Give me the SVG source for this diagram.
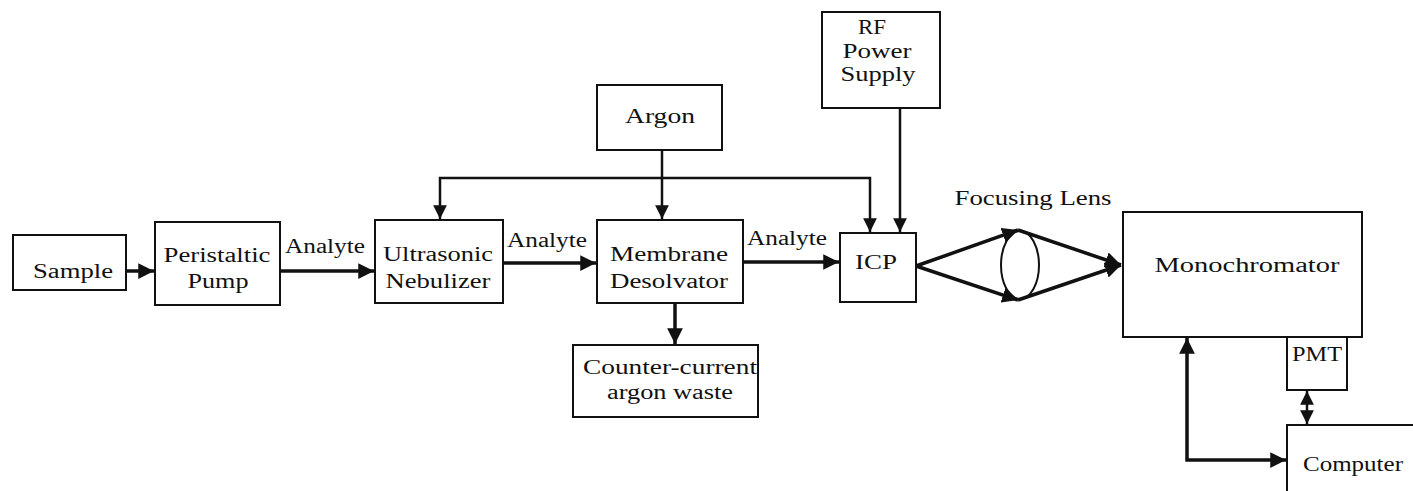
<svg xmlns="http://www.w3.org/2000/svg" width="1413" height="491" viewBox="0 0 1413 491">
<defs>
<style>
.box{fill:#fff;stroke:#111;stroke-width:2}
.t{font-family:"Liberation Serif","Times New Roman",serif;font-size:20px;fill:#111;text-anchor:middle}
.c{fill:none;stroke:#111;stroke-width:3.5}
.thin{fill:none;stroke:#111;stroke-width:2.5}
</style>
<marker id="ah" viewBox="0 0 10 10" refX="10" refY="5" markerWidth="4.5" markerHeight="4.5" orient="auto" markerUnits="strokeWidth">
<path d="M0,0 L10,5 L0,10 z" fill="#111"/>
</marker>
<marker id="ahs" viewBox="0 0 10 10" refX="10" refY="5" markerWidth="5.5" markerHeight="5.5" orient="auto" markerUnits="strokeWidth">
<path d="M0,0 L10,5 L0,10 z" fill="#111"/>
</marker>
<marker id="ahr" viewBox="0 0 10 10" refX="0" refY="5" markerWidth="4.5" markerHeight="4.5" orient="auto" markerUnits="strokeWidth">
<path d="M10,0 L0,5 L10,10 z" fill="#111"/>
</marker>
<marker id="ahrs" viewBox="0 0 10 10" refX="0" refY="5" markerWidth="5.5" markerHeight="5.5" orient="auto" markerUnits="strokeWidth">
<path d="M10,0 L0,5 L10,10 z" fill="#111"/>
</marker>
</defs>
<rect width="1413" height="491" fill="#fff"/>

<g id="connectors">
<path class="c" d="M126,271 H154" marker-end="url(#ah)"/>
<path class="c" d="M280,271 H374" marker-end="url(#ah)"/>
<path class="c" d="M503,263 H596" marker-end="url(#ah)"/>
<path class="c" d="M743,262 H839" marker-end="url(#ah)"/>
<path class="thin" d="M662,150 V219" marker-end="url(#ahs)"/>
<path class="thin" d="M440,219 V178 H870 V232" marker-start="url(#ahrs)" marker-end="url(#ahs)"/>
<path class="thin" d="M900,108 V232" marker-end="url(#ahs)"/>
<path class="c" d="M675,303 V344" marker-end="url(#ah)"/>
<path class="c" d="M916,266 L1018,230" marker-end="url(#ah)"/>
<path class="c" d="M916,266 L1018,300" marker-end="url(#ah)"/>
<path class="c" d="M1018,230 L1121,265" marker-end="url(#ah)"/>
<path class="c" d="M1018,300 L1121,265" marker-end="url(#ah)"/>
<path class="thin" d="M1307,391 V424" marker-start="url(#ahrs)" marker-end="url(#ahs)"/>
<path class="c" d="M1187,338 V460 H1286" marker-start="url(#ahr)" marker-end="url(#ah)"/>
</g>

<g id="lens">
<ellipse cx="1020" cy="265" rx="19" ry="34" fill="none" stroke="#111" stroke-width="2"/>
</g>

<g id="sample"><rect class="box" x="13" y="235" width="113" height="55"/>
<text class="t" x="73" y="278" textLength="80" lengthAdjust="spacingAndGlyphs">Sample</text></g>

<g id="pump"><rect class="box" x="155" y="222" width="125" height="83"/>
<text class="t" x="217" y="262" textLength="107" lengthAdjust="spacingAndGlyphs">Peristaltic</text>
<text class="t" x="218" y="288" textLength="61" lengthAdjust="spacingAndGlyphs">Pump</text></g>

<text class="t" x="325" y="253" textLength="80" lengthAdjust="spacingAndGlyphs">Analyte</text>

<g id="nebulizer"><rect class="box" x="375" y="220" width="128" height="83"/>
<text class="t" x="438" y="261" textLength="110" lengthAdjust="spacingAndGlyphs">Ultrasonic</text>
<text class="t" x="438" y="288" textLength="105" lengthAdjust="spacingAndGlyphs">Nebulizer</text></g>

<text class="t" x="547" y="247" textLength="80" lengthAdjust="spacingAndGlyphs">Analyte</text>

<g id="argon"><rect class="box" x="597" y="85" width="125" height="65"/>
<text class="t" x="660" y="123" textLength="70" lengthAdjust="spacingAndGlyphs">Argon</text></g>

<g id="desolvator"><rect class="box" x="597" y="220" width="146" height="83"/>
<text class="t" x="669" y="261" textLength="118" lengthAdjust="spacingAndGlyphs">Membrane</text>
<text class="t" x="669" y="288" textLength="118" lengthAdjust="spacingAndGlyphs">Desolvator</text></g>

<text class="t" x="787" y="245" textLength="80" lengthAdjust="spacingAndGlyphs">Analyte</text>

<g id="waste"><rect class="box" x="573" y="345" width="185" height="72"/>
<text class="t" x="670" y="374" textLength="174" lengthAdjust="spacingAndGlyphs">Counter-current</text>
<text class="t" x="670" y="399" textLength="126" lengthAdjust="spacingAndGlyphs">argon waste</text></g>

<g id="rf"><rect class="box" x="822" y="12" width="118" height="96"/>
<text class="t" x="872" y="34" textLength="28" lengthAdjust="spacingAndGlyphs">RF</text>
<text class="t" x="877" y="58" textLength="69" lengthAdjust="spacingAndGlyphs">Power</text>
<text class="t" x="878" y="81" textLength="75" lengthAdjust="spacingAndGlyphs">Supply</text></g>

<g id="icp"><rect class="box" x="840" y="233" width="76" height="69"/>
<text class="t" x="876" y="269" textLength="42" lengthAdjust="spacingAndGlyphs">ICP</text></g>

<text class="t" x="1033" y="205" textLength="157" lengthAdjust="spacingAndGlyphs">Focusing Lens</text>

<g id="monochromator"><rect class="box" x="1123" y="212" width="239" height="125"/>
<text class="t" x="1247" y="272" textLength="185" lengthAdjust="spacingAndGlyphs">Monochromator</text></g>

<g id="pmt"><rect class="box" x="1287" y="337" width="60" height="53"/>
<text class="t" x="1317" y="361" textLength="50" lengthAdjust="spacingAndGlyphs">PMT</text></g>

<g id="computer"><rect class="box" x="1287" y="425" width="140" height="80"/>
<text class="t" x="1353" y="471" textLength="100" lengthAdjust="spacingAndGlyphs">Computer</text></g>
</svg>
